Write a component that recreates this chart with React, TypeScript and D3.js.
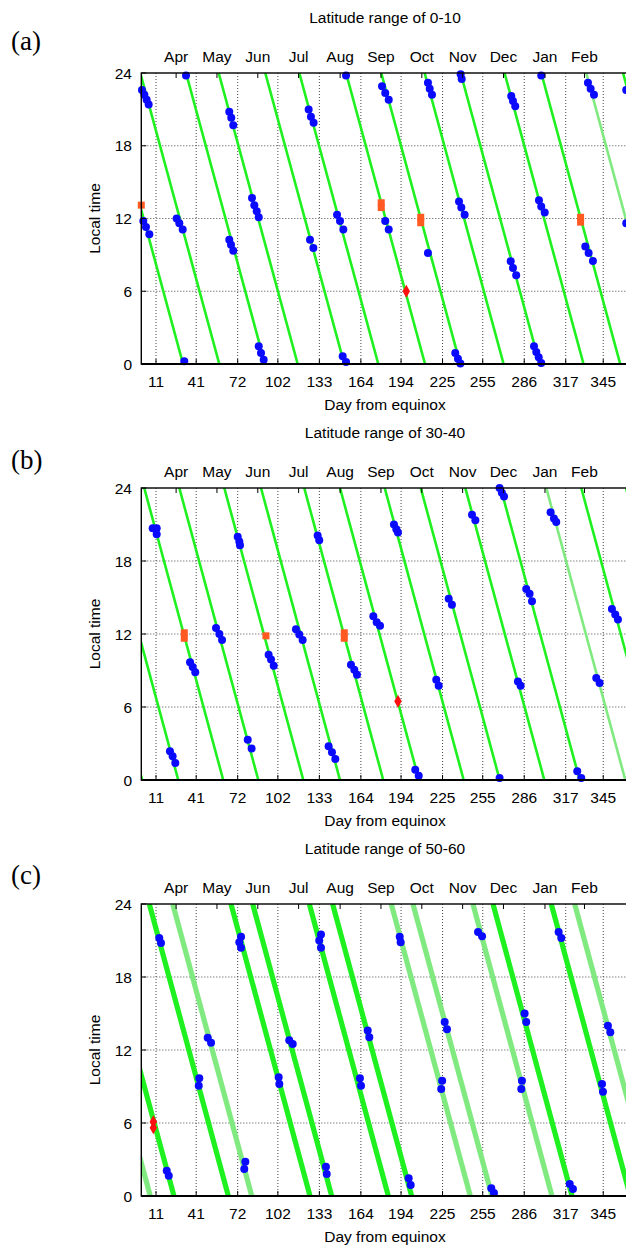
import React from "react";
import * as d3 from "d3";

// ---------- shared axis data ----------
const DAY_TICKS = [11, 41, 72, 102, 133, 164, 194, 225, 255, 286, 317, 345];
const MONTHS = ["Apr", "May", "Jun", "Jul", "Aug", "Sep", "Oct", "Nov", "Dec", "Jan", "Feb"];
const MONTH_POS = [26, 56.5, 87, 117.5, 148.5, 179, 209.5, 240, 270.5, 301.5, 331];
const HOUR_TICKS = [0, 6, 12, 18, 24];

// ---------- panel (a) 0-10 ----------
// lines: [day at 24h, day at 0h]
const linesA: [number, number][] = [
  [-27.8, 31.2], [-0.75, 58.25], [33.4, 92.4], [57.8, 116.8], [92.6, 151.6], [118.0, 177.0],
  [152.9, 211.9], [179.2, 238.2], [211.6, 270.6], [238.5, 297.5], [271.3, 330.3], [298.7, 357.7],
  [359.8, 418.8],
];
const linesAFaint: [number, number][] = [[332.3, 391.3]];
const blueA: [number, number][] = [
  [0.5, 22.6], [2.3, 22.2], [4.0, 21.8], [5.5, 21.4],
  [33.4, 23.8],
  [65.7, 20.8], [67.2, 20.3], [68.7, 19.7],
  [125.0, 21.0], [126.7, 20.4], [128.7, 19.9],
  [152.9, 23.8],
  [82.7, 13.7], [84.4, 13.1], [86.2, 12.6], [87.7, 12.1],
  [1.5, 11.8], [3.5, 11.3], [6.0, 10.7],
  [26.4, 12.0], [28.4, 11.6], [30.9, 11.1],
  [65.7, 10.25], [67.0, 9.84], [68.7, 9.35],
  [126.0, 10.25], [128.5, 9.57],
  [146.2, 12.3], [148.4, 11.8], [150.9, 11.1],
  [87.7, 1.46], [89.4, 0.91], [91.4, 0.36],
  [32.1, 0.22],
  [150.4, 0.63], [152.9, 0.16],
  [179.8, 22.9], [182.2, 22.35], [184.8, 21.8],
  [214.1, 23.2], [215.4, 22.7], [217.1, 22.2],
  [238.5, 23.9], [239.3, 23.5],
  [276.3, 22.1], [277.6, 21.7], [279.3, 21.25],
  [298.7, 23.8],
  [333.6, 23.2], [335.6, 22.7], [338.1, 22.2],
  [362.2, 22.6],
  [237.3, 13.4], [239.0, 12.9], [241.5, 12.3],
  [297.0, 13.5], [298.7, 13.0], [301.3, 12.5],
  [182.2, 11.8], [184.8, 11.1],
  [214.1, 9.15],
  [275.9, 8.47], [277.6, 7.92], [280.0, 7.31],
  [331.6, 9.7], [334.1, 9.15], [337.3, 8.5],
  [362.2, 11.6],
  [234.5, 0.91], [236.5, 0.44], [238.3, 0.05],
  [293.3, 1.46], [295.0, 0.99], [296.8, 0.55], [298.7, 0.08],
];
const orangeA: [number, number][] = [
  [0, 13.1],
  [179.2, 13.3], [179.2, 12.9],
  [208.7, 12.1], [208.7, 11.65],
  [328.1, 12.1], [328.1, 11.7],
];
const redA: [number, number][] = [[197.9, 6.0]];

// ---------- panel (b) 30-40 ----------
const linesB: [number, number][] = [
  [-58.3, 0.7], [-31.4, 27.6], [2.2, 61.2], [28.4, 87.4], [62.0, 121.0], [89.4, 148.4],
  [121.7, 180.7], [148.4, 207.4], [181.8, 240.8], [208.7, 267.7], [242.0, 301.0], [268.4, 327.4],
  [328.6, 387.6], [362.0, 421.0],
];
const linesBFaint: [number, number][] = [[302.5, 361.5]];
const blueB: [number, number][] = [
  [8.5, 20.7], [11.5, 20.7], [11.5, 20.2],
  [72.0, 20.0], [73.2, 19.6], [73.7, 19.3],
  [131.7, 20.1], [132.9, 19.7],
  [173.3, 13.45], [175.8, 12.96], [178.3, 12.68],
  [55.8, 12.5], [58.3, 12.0], [60.3, 11.5],
  [115.5, 12.4], [118.0, 11.95], [120.5, 11.5],
  [36.4, 9.67], [38.4, 9.29], [40.3, 8.85],
  [95.1, 10.3], [96.9, 9.9], [98.9, 9.4],
  [156.6, 9.48], [159.1, 9.07], [161.1, 8.66],
  [21.4, 2.36], [23.4, 1.95], [25.4, 1.4],
  [79.5, 3.31], [82.4, 2.58],
  [139.9, 2.77], [142.4, 2.28], [144.9, 1.73],
  [188.7, 21.0], [190.5, 20.6], [191.7, 20.35],
  [247.0, 21.8], [249.5, 21.35],
  [267.6, 24.0], [269.3, 23.6], [270.9, 23.3],
  [305.7, 22.0], [308.2, 21.5], [309.9, 21.2],
  [351.5, 14.05], [354.0, 13.6], [356.0, 13.2],
  [287.5, 15.7], [290.0, 15.3], [291.8, 14.7],
  [229.6, 14.9], [232.0, 14.4],
  [220.3, 8.25], [222.1, 7.75],
  [281.3, 8.1], [283.3, 7.75],
  [339.8, 8.38], [342.3, 7.97],
  [204.6, 0.85], [207.2, 0.35],
  [267.6, 0.16],
  [325.6, 0.71], [328.6, 0.16],
];
const orangeB: [number, number][] = [
  [32.1, 12.1], [32.1, 11.65],
  [93.1, 11.85],
  [151.6, 12.1], [151.6, 11.65],
];
const redB: [number, number][] = [[191.7, 6.47]];

// ---------- panel (c) 50-60 ----------
const linesC: [number, number][] = [
  [-34.6, 24.4], [6.0, 65.0], [67.0, 126.0], [83.2, 142.2], [125.5, 184.5], [142.9, 201.9],
  [262.7, 321.7], [306.2, 365.2],
];
const linesCFaint: [number, number][] = [
  [-52.3, 6.7], [23.5, 82.5], [186.7, 245.7], [202.9, 261.9], [247.7, 306.7], [323.7, 382.7],
];
const blueC: [number, number][] = [
  [13.4, 21.2], [14.7, 20.8],
  [74.5, 21.3], [73.2, 20.85], [74.5, 20.4],
  [134.2, 21.5], [132.9, 21.0], [134.2, 20.4],
  [49.6, 13.0], [52.1, 12.6],
  [110.5, 12.8], [113.1, 12.5],
  [169.1, 13.6], [170.3, 13.05],
  [43.3, 9.67], [42.9, 9.07],
  [102.6, 9.76], [103.1, 9.2],
  [163.3, 9.67], [164.1, 9.07],
  [19.0, 2.08], [20.5, 1.67],
  [77.7, 2.82], [76.9, 2.22],
  [137.9, 2.41], [138.5, 1.81],
  [193.0, 21.3], [193.7, 20.85],
  [251.5, 21.7], [254.5, 21.35],
  [311.7, 21.7], [313.7, 21.2],
  [226.6, 14.3], [228.3, 13.7],
  [286.3, 15.0], [287.5, 14.3],
  [348.5, 14.0], [350.3, 13.45],
  [224.7, 9.48], [224.0, 8.8],
  [284.3, 9.48], [283.8, 8.8],
  [344.1, 9.2], [344.8, 8.57],
  [199.7, 1.45], [201.2, 0.9],
  [261.4, 0.63], [263.4, 0.25],
  [320.0, 0.99], [322.4, 0.58],
];
const orangeC: [number, number][] = [];
const redC: [number, number][] = [[9.0, 6.1], [9.0, 5.6]];

const TITLES = ["Latitude range of 0-10", "Latitude range of 30-40", "Latitude range of 50-60"];
const LABELS = ["(a)", "(b)", "(c)"];

// ---------- layout ----------
const W = 626;
const H = 1246;
const LEFT = 141.3;
const RIGHT = 630;
const PANEL_TOPS = [73, 488, 904];
const PANEL_BOTTOMS = [364, 780, 1196];
const LABEL_BASE = [50, 469, 884];
const FONT = "'Liberation Sans', Arial, Helvetica, sans-serif";
const GREEN = "#1ff01f";
const FAINT = "#80ea80";

type PanelProps = {
  idx: number;
  lines: [number, number][];
  faint: [number, number][];
  blue: [number, number][];
  orange: [number, number][];
  red: [number, number][];
  thick: boolean;
};

function Panel({ idx, lines, faint, blue, orange, red, thick }: PanelProps) {
  const top = PANEL_TOPS[idx];
  const bottom = PANEL_BOTTOMS[idx];
  const x = d3.scaleLinear().domain([0, 365]).range([LEFT, RIGHT]);
  const y = d3.scaleLinear().domain([0, 24]).range([bottom, top]);
  const clipId = `clip-${idx}`;
  const lw = thick ? 5.2 : 2.6;
  const diamond = d3.symbol().type(d3.symbolDiamond).size(48)()!;
  return (
    <g>
      <defs>
        <clipPath id={clipId}>
          <rect x={LEFT} y={top} width={RIGHT - LEFT} height={bottom - top} />
        </clipPath>
      </defs>
      {/* grid */}
      {DAY_TICKS.map((t) => (
        <line key={"gx" + t} x1={x(t)} x2={x(t)} y1={top} y2={bottom}
          stroke="#333" strokeWidth={0.9} strokeDasharray="1 2" />
      ))}
      {HOUR_TICKS.filter((h) => h > 0 && h < 24).map((h) => (
        <line key={"gy" + h} x1={LEFT} x2={RIGHT} y1={y(h)} y2={y(h)}
          stroke="#333" strokeWidth={0.9} strokeDasharray="1 2" />
      ))}
      {/* lines */}
      <g clipPath={`url(#${clipId})`}>
        {faint.map((l, i) => (
          <line key={"f" + i} x1={x(l[0])} y1={y(24)} x2={x(l[1])} y2={y(0)}
            stroke={FAINT} strokeWidth={lw} />
        ))}
        {lines.map((l, i) => (
          <line key={"l" + i} x1={x(l[0])} y1={y(24)} x2={x(l[1])} y2={y(0)}
            stroke={GREEN} strokeWidth={lw} />
        ))}
      </g>
      {/* points */}
      {blue.map((p, i) => (
        <circle key={"b" + i} cx={x(p[0])} cy={y(p[1])} r={4} fill="#0a0aff" />
      ))}
      {orange.map((p, i) => (
        <rect key={"o" + i} x={x(p[0]) - 3.5} y={y(p[1]) - 3.5} width={7} height={7} fill="#ff5a22" />
      ))}
      {red.map((p, i) => (
        <path key={"r" + i} d={diamond} transform={`translate(${x(p[0])},${y(p[1])})`} fill="#ff1010" />
      ))}
      {/* frame */}
      <rect x={LEFT} y={top} width={RIGHT - LEFT} height={bottom - top} fill="none" stroke="#000" strokeWidth={1.4} />
      <line x1={LEFT} x2={RIGHT} y1={bottom} y2={bottom} stroke="#000" strokeWidth={2} />
      {/* ticks */}
      {DAY_TICKS.map((t) => (
        <g key={"tx" + t}>
          <line x1={x(t)} x2={x(t)} y1={bottom} y2={bottom - 5} stroke="#000" strokeWidth={1} />
          <text x={x(t)} y={bottom + 22.5} textAnchor="middle" fontFamily={FONT} fontSize={15.5}>{t}</text>
        </g>
      ))}
      {MONTH_POS.map((m, i) => (
        <g key={"m" + i}>
          <line x1={x(m)} x2={x(m)} y1={top} y2={top + 5} stroke="#000" strokeWidth={1} />
          <text x={x(m)} y={top - 11.5} textAnchor="middle" fontFamily={FONT} fontSize={15.5}>{MONTHS[i]}</text>
        </g>
      ))}
      {HOUR_TICKS.map((h) => (
        <g key={"ty" + h}>
          <line x1={LEFT} x2={LEFT + 5} y1={y(h)} y2={y(h)} stroke="#000" strokeWidth={1} />
          <text x={132} y={y(h) + 5.5} textAnchor="end" fontFamily={FONT} fontSize={15.5}>{h}</text>
        </g>
      ))}
      {/* labels */}
      <text x={385} y={top - 50} textAnchor="middle" fontFamily={FONT} fontSize={15.5}>{TITLES[idx]}</text>
      <text x={385} y={bottom + 46} textAnchor="middle" fontFamily={FONT} fontSize={15.5}>Day from equinox</text>
      <text transform={`translate(100,${(top + bottom) / 2}) rotate(-90)`} textAnchor="middle" fontFamily={FONT} fontSize={15.5}>Local time</text>
      <text x={11} y={LABEL_BASE[idx]} fontFamily="'Liberation Serif', 'Times New Roman', serif" fontSize={27}>{LABELS[idx]}</text>
    </g>
  );
}

export default function App() {
  return (
    <svg width={W} height={H} style={{ position: "absolute", left: 0, top: 0, background: "#fff" }}>
      <rect width={W} height={H} fill="#fff" />
      <Panel idx={0} lines={linesA} faint={linesAFaint} blue={blueA} orange={orangeA} red={redA} thick={false} />
      <Panel idx={1} lines={linesB} faint={linesBFaint} blue={blueB} orange={orangeB} red={redB} thick={false} />
      <Panel idx={2} lines={linesC} faint={linesCFaint} blue={blueC} orange={orangeC} red={redC} thick={true} />
    </svg>
  );
}
